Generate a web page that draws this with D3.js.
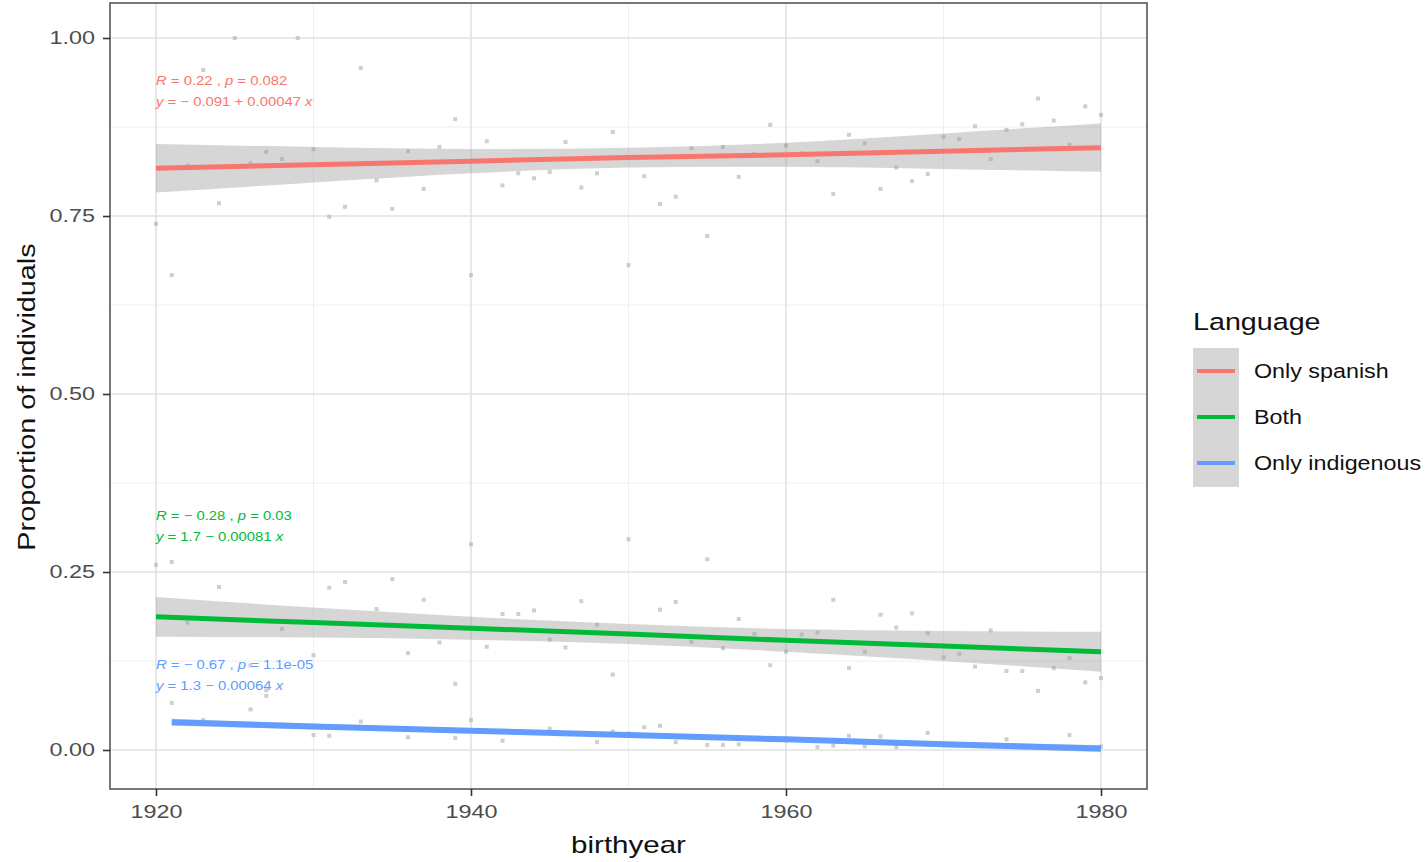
<!DOCTYPE html>
<html>
<head>
<meta charset="utf-8">
<script src="https://cdn.jsdelivr.net/npm/d3@7"></script>
<style>
  body { margin: 0; background: #fff; }
  text { font-family: "Liberation Sans", Arial, sans-serif; }
</style>
</head>
<body>
<div id="chart"></div>
<script>
// points: [birthyear, proportion]
const spanishPts = [
  [1920,.739],[1921,.667],[1922,.821],[1923,.955],[1924,.768],[1925,1.0],[1926,.824],[1927,.840],
  [1928,.830],[1929,1.0],[1930,.844],[1931,.749],[1932,.763],[1933,.958],[1934,.800],[1935,.760],
  [1936,.841],[1937,.788],[1938,.847],[1939,.886],[1940,.667],[1941,.855],[1942,.793],[1943,.810],
  [1944,.803],[1945,.812],[1946,.854],[1947,.790],[1948,.810],[1949,.868],[1950,.681],[1951,.806],
  [1952,.767],[1953,.777],[1954,.845],[1955,.722],[1956,.847],[1957,.805],[1958,.837],[1959,.878],
  [1960,.849],[1961,.838],[1962,.827],[1963,.781],[1964,.864],[1965,.852],[1966,.788],[1967,.818],
  [1968,.799],[1969,.809],[1970,.861],[1971,.858],[1972,.876],[1973,.830],[1974,.871],[1975,.879],
  [1976,.915],[1977,.884],[1978,.850],[1979,.904],[1980,.892]
];
const bothPts = [
  [1920,.260],[1921,.264],[1922,.179],[1924,.229],[1926,.119],[1927,.084],[1928,.170],[1930,.133],
  [1931,.228],[1932,.236],[1934,.198],[1935,.240],[1936,.136],[1937,.211],[1938,.151],[1939,.093],
  [1940,.289],[1941,.145],[1942,.191],[1943,.191],[1944,.196],[1945,.155],[1946,.144],[1947,.209],
  [1948,.176],[1949,.106],[1950,.296],[1951,.162],[1952,.197],[1953,.208],[1954,.152],[1955,.268],
  [1956,.143],[1957,.184],[1958,.163],[1959,.119],[1960,.138],[1961,.162],[1962,.165],[1963,.211],
  [1964,.115],[1965,.138],[1966,.190],[1967,.172],[1968,.192],[1969,.164],[1970,.130],[1971,.135],
  [1972,.117],[1973,.168],[1974,.111],[1975,.111],[1976,.083],[1977,.115],[1978,.129],[1979,.095],
  [1980,.101]
];
const indigenousPts = [
  [1921,.066],[1923,.042],[1926,.057],[1927,.076],[1930,.021],[1931,.020],[1933,.040],[1936,.018],
  [1939,.017],[1940,.042],[1942,.013],[1945,.030],[1948,.011],[1949,.026],[1950,.023],[1951,.032],
  [1952,.034],[1953,.011],[1955,.007],[1956,.007],[1957,.008],[1960,.013],[1962,.004],[1963,.006],
  [1964,.020],[1965,.005],[1966,.019],[1967,.004],[1968,.008],[1969,.024],[1970,.008],[1974,.015],
  [1978,.021],[1980,.005]
];

// smoothers (lm fit + 95% band)
const fitYears = [1920,1930,1940,1950,1960,1970,1980];
const spanishFit = [.817,.822,.827,.832,.836,.841,.846];
const spanishLo  = [.783,.797,.810,.818,.819,.816,.812];
const spanishHi  = [.851,.847,.844,.846,.853,.866,.880];
const bothFit = [.187,.179,.171,.163,.154,.146,.138];
const bothLo  = [.159,.158,.155,.149,.138,.125,.110];
const bothHi  = [.215,.200,.187,.177,.170,.167,.166];
const indFitYears = [1921,1930,1940,1950,1960,1970,1980];
const indFit = [.039,.033,.027,.021,.015,.008,.002];
const indLo  = [.034,.029,.024,.018,.012,.004,-.003];
const indHi  = [.044,.037,.030,.024,.018,.012,.007];

const groups = ["Only spanish","Both","Only indigenous"];
const colors = ["#F8766D","#00BA38","#619CFF"];
const statR = ["0.22","\u2212 0.28","\u2212 0.67"];
const statP = ["0.082","0.03","1.1e-05"];
const statEq = ["\u2212 0.091 + 0.00047","1.7 \u2212 0.00081","1.3 \u2212 0.00064"];

const xTicks = [1920,1940,1960,1980];
const yTicks = [0,0.25,0.5,0.75,1];

const W = 1428, H = 862;
const panel = {left: 110, right: 1147, top: 3, bottom: 789};

const svg = d3.select("#chart").append("svg")
  .attr("width", W).attr("height", H);

const x = d3.scaleLinear().domain([1920,1980]).range([156,1101]);
const y = d3.scaleLinear().domain([0,1]).range([750,38]);

// the original's type is wider than Liberation Sans, so stretch it a bit
function wideText(parent, px, py, sx) {
  return parent.append("text")
    .attr("transform", `translate(${px},${py}) scale(${sx},1)`);
}

// grid
const g = svg.append("g");
const minorX = [1930,1950,1970], minorY = [0.125,0.375,0.625,0.875];
g.selectAll(".mx").data(minorX).enter().append("line")
  .attr("x1", d => x(d)).attr("x2", d => x(d))
  .attr("y1", panel.top).attr("y2", panel.bottom)
  .attr("stroke", "#eeeeee").attr("stroke-width", 1);
g.selectAll(".my").data(minorY).enter().append("line")
  .attr("y1", d => y(d)).attr("y2", d => y(d))
  .attr("x1", panel.left).attr("x2", panel.right)
  .attr("stroke", "#eeeeee").attr("stroke-width", 1);
g.selectAll(".gx").data(xTicks).enter().append("line")
  .attr("x1", d => x(d)).attr("x2", d => x(d))
  .attr("y1", panel.top).attr("y2", panel.bottom)
  .attr("stroke", "#e2e2e2").attr("stroke-width", 1.6);
g.selectAll(".gy").data(yTicks).enter().append("line")
  .attr("y1", d => y(d)).attr("y2", d => y(d))
  .attr("x1", panel.left).attr("x2", panel.right)
  .attr("stroke", "#e2e2e2").attr("stroke-width", 1.6);

// points
[spanishPts, bothPts, indigenousPts].forEach(pts => {
  svg.append("g").selectAll("rect").data(pts).enter().append("rect")
    .attr("x", d => x(d[0]) - 2).attr("y", d => y(d[1]) - 2)
    .attr("width", 4).attr("height", 4)
    .attr("fill", "#a8a8a8").attr("opacity", 0.55);
});

// smoothers
const series = [
  {yrs: fitYears, fit: spanishFit, lo: spanishLo, hi: spanishHi, w: 5},
  {yrs: fitYears, fit: bothFit, lo: bothLo, hi: bothHi, w: 5},
  {yrs: indFitYears, fit: indFit, lo: indLo, hi: indHi, w: 6}
];
const area = d3.area().curve(d3.curveNatural)
  .x(d => x(d.yr)).y0(d => y(d.lo)).y1(d => y(d.hi));
const line = d3.line().x(d => x(d.yr)).y(d => y(d.fit));
series.forEach((s, i) => {
  const rows = s.yrs.map((yr, j) => ({yr, fit: s.fit[j], lo: s.lo[j], hi: s.hi[j]}));
  svg.append("path").datum(rows).attr("d", area)
    .attr("fill", "#999999").attr("opacity", 0.4);
  svg.append("path").datum(rows).attr("d", line)
    .attr("fill", "none").attr("stroke", colors[i]).attr("stroke-width", s.w);
});

// stat annotations
const annY = [[0.94, 0.911], [0.329, 0.299], [0.120, 0.090]];
groups.forEach((grp, i) => {
  const t1 = wideText(svg, x(1920), y(annY[i][0]), 1.19)
    .attr("dy", "0.35em").attr("font-size", 12.5).attr("fill", colors[i]);
  t1.append("tspan").attr("font-style", "italic").text("R");
  t1.append("tspan").text(" = " + statR[i] + " , ");
  t1.append("tspan").attr("font-style", "italic").text("p");
  t1.append("tspan").text(" = " + statP[i]);
  const t2 = wideText(svg, x(1920), y(annY[i][1]), 1.19)
    .attr("dy", "0.35em").attr("font-size", 12.5).attr("fill", colors[i]);
  t2.append("tspan").attr("font-style", "italic").text("y");
  t2.append("tspan").text(" = " + statEq[i] + " ");
  t2.append("tspan").attr("font-style", "italic").text("x");
});

// panel border
svg.append("rect")
  .attr("x", panel.left).attr("y", panel.top)
  .attr("width", panel.right - panel.left).attr("height", panel.bottom - panel.top)
  .attr("fill", "none").attr("stroke", "#555").attr("stroke-width", 1.6);

// axes
const tickSx = 1.3;
const xAxis = svg.append("g").attr("transform", `translate(0,${panel.bottom})`)
  .call(d3.axisBottom(x).tickValues(xTicks).tickFormat(d3.format("d")).tickSize(7).tickPadding(9));
const yAxis = svg.append("g").attr("transform", `translate(${panel.left},0)`)
  .call(d3.axisLeft(y).tickValues(yTicks).tickFormat(d3.format(".2f")).tickSize(7).tickPadding(8));
[xAxis, yAxis].forEach(a => {
  a.select(".domain").remove();
  a.selectAll(".tick line").attr("stroke", "#333").attr("stroke-width", 1.6);
  a.selectAll(".tick text").attr("fill", "#4d4d4d").attr("font-size", 18)
    .style("font-family", "'Liberation Sans', Arial, sans-serif")
    .attr("transform", `scale(${tickSx},1)`);
});
yAxis.selectAll(".tick text").attr("x", -15 / tickSx);

wideText(svg, (panel.left + panel.right) / 2, 853, 1.23)
  .attr("text-anchor", "middle").attr("font-size", 24).attr("fill", "#111")
  .text("birthyear");
svg.append("text")
  .attr("transform", `translate(35,${(panel.top + panel.bottom) / 2 + 1}) rotate(-90) scale(1.2,1)`)
  .attr("text-anchor", "middle").attr("font-size", 24).attr("fill", "#111")
  .text("Proportion of individuals");

// legend
const lg = svg.append("g").attr("transform", "translate(1193,0)");
wideText(lg, 0, 330, 1.22).attr("font-size", 23.5).attr("fill", "#111")
  .text("Language");
lg.append("rect").attr("x", 0).attr("y", 348).attr("width", 46).attr("height", 139)
  .attr("fill", "#999999").attr("opacity", 0.4);
groups.forEach((grp, i) => {
  const cy = 371 + i * 46;
  lg.append("line").attr("x1", 4).attr("x2", 42).attr("y1", cy).attr("y2", cy)
    .attr("stroke", colors[i]).attr("stroke-width", 4);
  wideText(lg, 61, cy, 1.11).attr("dy", "0.35em")
    .attr("font-size", 21).attr("fill", "#111").text(grp);
});
</script>
</body>
</html>
